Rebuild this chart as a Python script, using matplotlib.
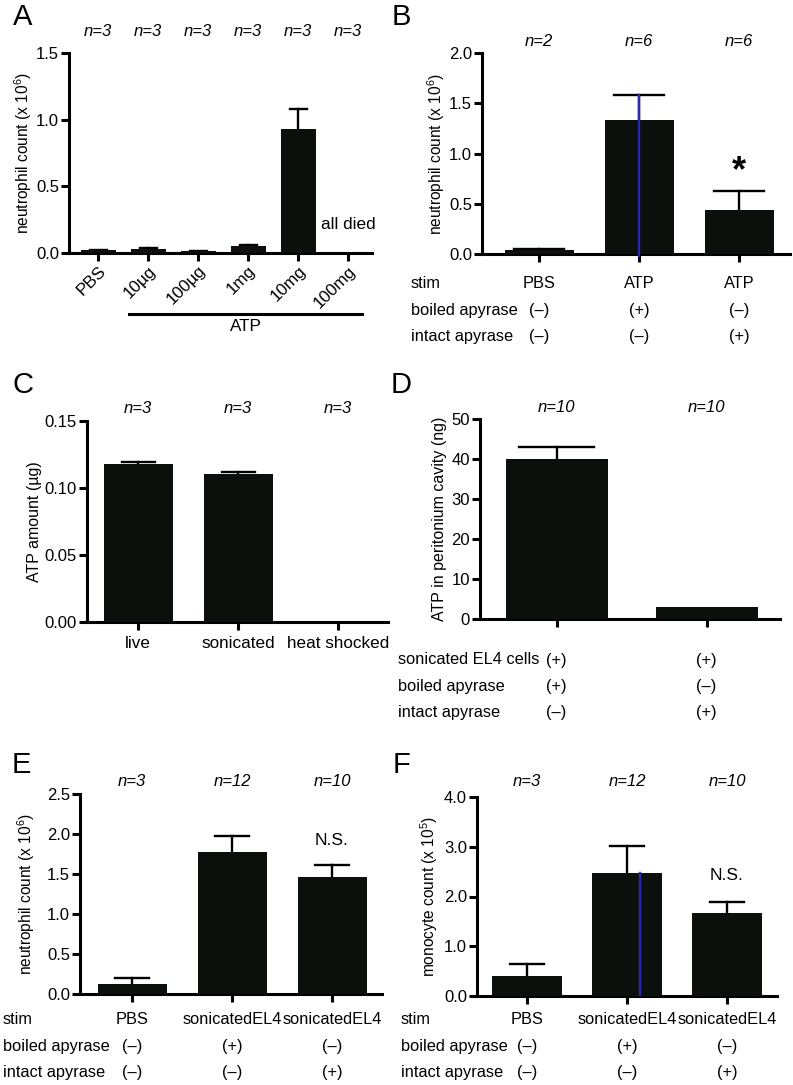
import matplotlib
matplotlib.use("Agg")
import matplotlib.pyplot as plt
import matplotlib.transforms as mtransforms

plt.rcParams['font.family'] = ['Liberation Sans', 'DejaVu Sans']
plt.rcParams['mathtext.fontset'] = 'custom'
plt.rcParams['mathtext.rm'] = 'Liberation Sans'
plt.rcParams['mathtext.it'] = 'Liberation Sans:italic'

# ---- data ----
a_labels = ["PBS", "10\u00b5g", "100\u00b5g", "1mg", "10mg", "100mg"]
a_vals = [0.02, 0.03, 0.015, 0.055, 0.93, 0.0]
a_err = [0.003, 0.007, 0.003, 0.007, 0.15, 0.0]
a_n = ["n=3"] * 6

b_stim = ["PBS", "ATP", "ATP"]
b_boiled = ["(\u2013)", "(+)", "(\u2013)"]
b_intact = ["(\u2013)", "(\u2013)", "(+)"]
b_vals = [0.04, 1.335, 0.435]
b_err = [0.005, 0.245, 0.195]
b_n = ["n=2", "n=6", "n=6"]

c_labels = ["live", "sonicated", "heat shocked"]
c_vals = [0.1177, 0.1103, 0.0]
c_err = [0.002, 0.0015, 0.0]
c_n = ["n=3", "n=3", "n=3"]

d_cells = ["(+)", "(+)"]
d_boiled = ["(+)", "(\u2013)"]
d_intact = ["(\u2013)", "(+)"]
d_vals = [40.0, 3.0]
d_err = [3.1, 0.0]
d_n = ["n=10", "n=10"]

ef_stim = ["PBS", "sonicatedEL4", "sonicatedEL4"]
ef_boiled = ["(\u2013)", "(+)", "(\u2013)"]
ef_intact = ["(\u2013)", "(\u2013)", "(+)"]
e_vals = [0.12, 1.78, 1.46]
e_err = [0.075, 0.19, 0.155]
e_n = ["n=3", "n=12", "n=10"]
f_vals = [0.40, 2.47, 1.66]
f_err = [0.235, 0.55, 0.225]
f_n = ["n=3", "n=12", "n=10"]

BAR = "#0c100d"
TXT = 11.8
W, H = 793, 1085
fig = plt.figure(figsize=(W / 100, H / 100), dpi=100)


def add_ax(left, right, top, bottom):
    return fig.add_axes([left / W, 1 - bottom / H, (right - left) / W, (bottom - top) / H])


def style(ax, ytop, yticks, ylabel, label_px, xlim, lsize=11.2):
    for s in ["top", "right"]:
        ax.spines[s].set_visible(False)
    for s in ["left", "bottom"]:
        ax.spines[s].set_linewidth(2.2)
    ax.tick_params(width=2.2, length=6, direction="out", labelsize=12, pad=1.2)
    ax.set_ylim(0, ytop)
    ax.set_xlim(*xlim)
    ax.set_yticks(yticks)
    ax.set_ylabel(ylabel, fontsize=lsize)
    pos = ax.get_position()
    ax.yaxis.set_label_coords((label_px / W - pos.x0) / pos.width, 0.5)


def bars(ax, vals, err, width, cap):
    x = list(range(len(vals)))
    ax.bar(x, vals, width, color=BAR, zorder=3)
    for i in x:
        if err[i] > 0:
            top = vals[i] + err[i]
            ax.plot([i, i], [vals[i], top], color="black", lw=1.7, zorder=2)
            ax.plot([i - cap / 2, i + cap / 2], [top, top], color="black", lw=1.7, zorder=2)
    ax.set_xticks(x)


def n_labels(ax, labels, yfrac):
    for i, t in enumerate(labels):
        ax.text(i, yfrac, t, transform=ax.get_xaxis_transform(), ha="center", va="center",
                fontsize=12, style="italic", clip_on=False)


def table(ax, names, rows, ys, name_x):
    tr = mtransforms.blended_transform_factory(ax.transData, fig.transFigure)
    for name, row, y in zip(names, rows, ys):
        fig.text(name_x / W, 1 - y / H, name, ha="left", va="center", fontsize=TXT)
        for i, t in enumerate(row):
            ax.text(i, 1 - y / H, t, transform=tr, ha="center", va="center", fontsize=TXT)


def letter(t, x, y):
    fig.text(x / W, 1 - y / H, t, ha="left", va="center", fontsize=21)


# ---- A ----
axA = add_ax(69, 372, 53, 253)
bars(axA, a_vals, a_err, 0.7, 0.34)
style(axA, 1.5, [0, 0.5, 1.0, 1.5], r"neutrophil count (x 10$^{6}$)", 34, (-0.58, 5.48))
axA.set_xticklabels(a_labels, rotation=45, ha="right", rotation_mode="anchor", fontsize=12.3)
n_labels(axA, a_n, 1.105)
axA.text(5, 0.21, "all died", ha="center", va="center", fontsize=12.3)
axA.plot([0.62, 5.28], [-0.46, -0.46], color="black", lw=2.2, clip_on=False)
axA.text(2.95, -0.555, "ATP", ha="center", va="center", fontsize=12.3)
letter("A", 13, 17)

# ---- B ----
axB = add_ax(482, 790, 53, 254)
bars(axB, b_vals, b_err, 0.69, 0.5)
style(axB, 2.0, [0, 0.5, 1.0, 1.5, 2.0], r"neutrophil count (x 10$^{6}$)", 447, (-0.57, 2.51))
axB.set_xticklabels([])
axB.plot([1, 1], [-0.02, b_vals[1] + b_err[1]], color="#2a2ab0", lw=1.7, zorder=4, clip_on=False)
n_labels(axB, b_n, 1.055)
axB.text(2, 0.82, "*", ha="center", va="center", fontsize=26, fontweight="bold")
table(axB, ["stim", "boiled apyrase", "intact apyrase"], [b_stim, b_boiled, b_intact],
      [283, 310, 336], 411)
letter("B", 392, 17)

# ---- C ----
axC = add_ax(87, 388, 421, 622)
bars(axC, c_vals, c_err, 0.69, 0.33)
style(axC, 0.15, [0, 0.05, 0.10, 0.15], "ATP amount (\u00b5g)", 42, (-0.51, 2.5), 11.5)
axC.set_yticklabels(["0.00", "0.05", "0.10", "0.15"])
axC.set_xticklabels(c_labels, fontsize=12.3)
axC.tick_params(axis="x", pad=4)
n_labels(axC, c_n, 1.06)
letter("C", 12, 385)

# ---- D ----
axD = add_ax(480, 780, 419, 619)
bars(axD, d_vals, d_err, 0.68, 0.5)
style(axD, 50, [0, 10, 20, 30, 40, 50], "ATP in peritonium cavity (ng)", 447, (-0.51, 1.49), 11.5)
axD.set_xticklabels([])
n_labels(axD, d_n, 1.055)
table(axD, ["sonicated EL4 cells", "boiled apyrase", "intact apyrase"],
      [d_cells, d_boiled, d_intact], [660, 686, 712], 398)
letter("D", 391, 385)

# ---- E ----
axE = add_ax(80, 382, 794, 994)
bars(axE, e_vals, e_err, 0.69, 0.34)
style(axE, 2.5, [0, 0.5, 1.0, 1.5, 2.0, 2.5], r"neutrophil count (x 10$^{6}$)", 37, (-0.52, 2.5))
axE.set_xticklabels([])
n_labels(axE, e_n, 1.065)
axE.text(2, 1.92, "N.S.", ha="center", va="center", fontsize=12.5)
table(axE, ["stim", "boiled apyrase", "intact apyrase"], [ef_stim, ef_boiled, ef_intact],
      [1020, 1047, 1073], 3)
letter("E", 12, 765)

# ---- F ----
axF = add_ax(477, 777, 797, 996)
bars(axF, f_vals, f_err, 0.70, 0.34)
style(axF, 4.0, [0, 1.0, 2.0, 3.0, 4.0], r"monocyte count (x 10$^{5}$)", 440, (-0.5, 2.5))
axF.set_yticklabels(["0.0", "1.0", "2.0", "3.0", "4.0"])
axF.set_xticklabels([])
axF.plot([1.13, 1.13], [0, f_vals[1]], color="#2a2ab0", lw=1.7, zorder=4)
n_labels(axF, f_n, 1.08)
axF.text(2, 2.43, "N.S.", ha="center", va="center", fontsize=12.5)
table(axF, ["stim", "boiled apyrase", "intact apyrase"], [ef_stim, ef_boiled, ef_intact],
      [1020, 1047, 1073], 401)
letter("F", 393, 765)

fig.savefig("out.png", dpi=100)
